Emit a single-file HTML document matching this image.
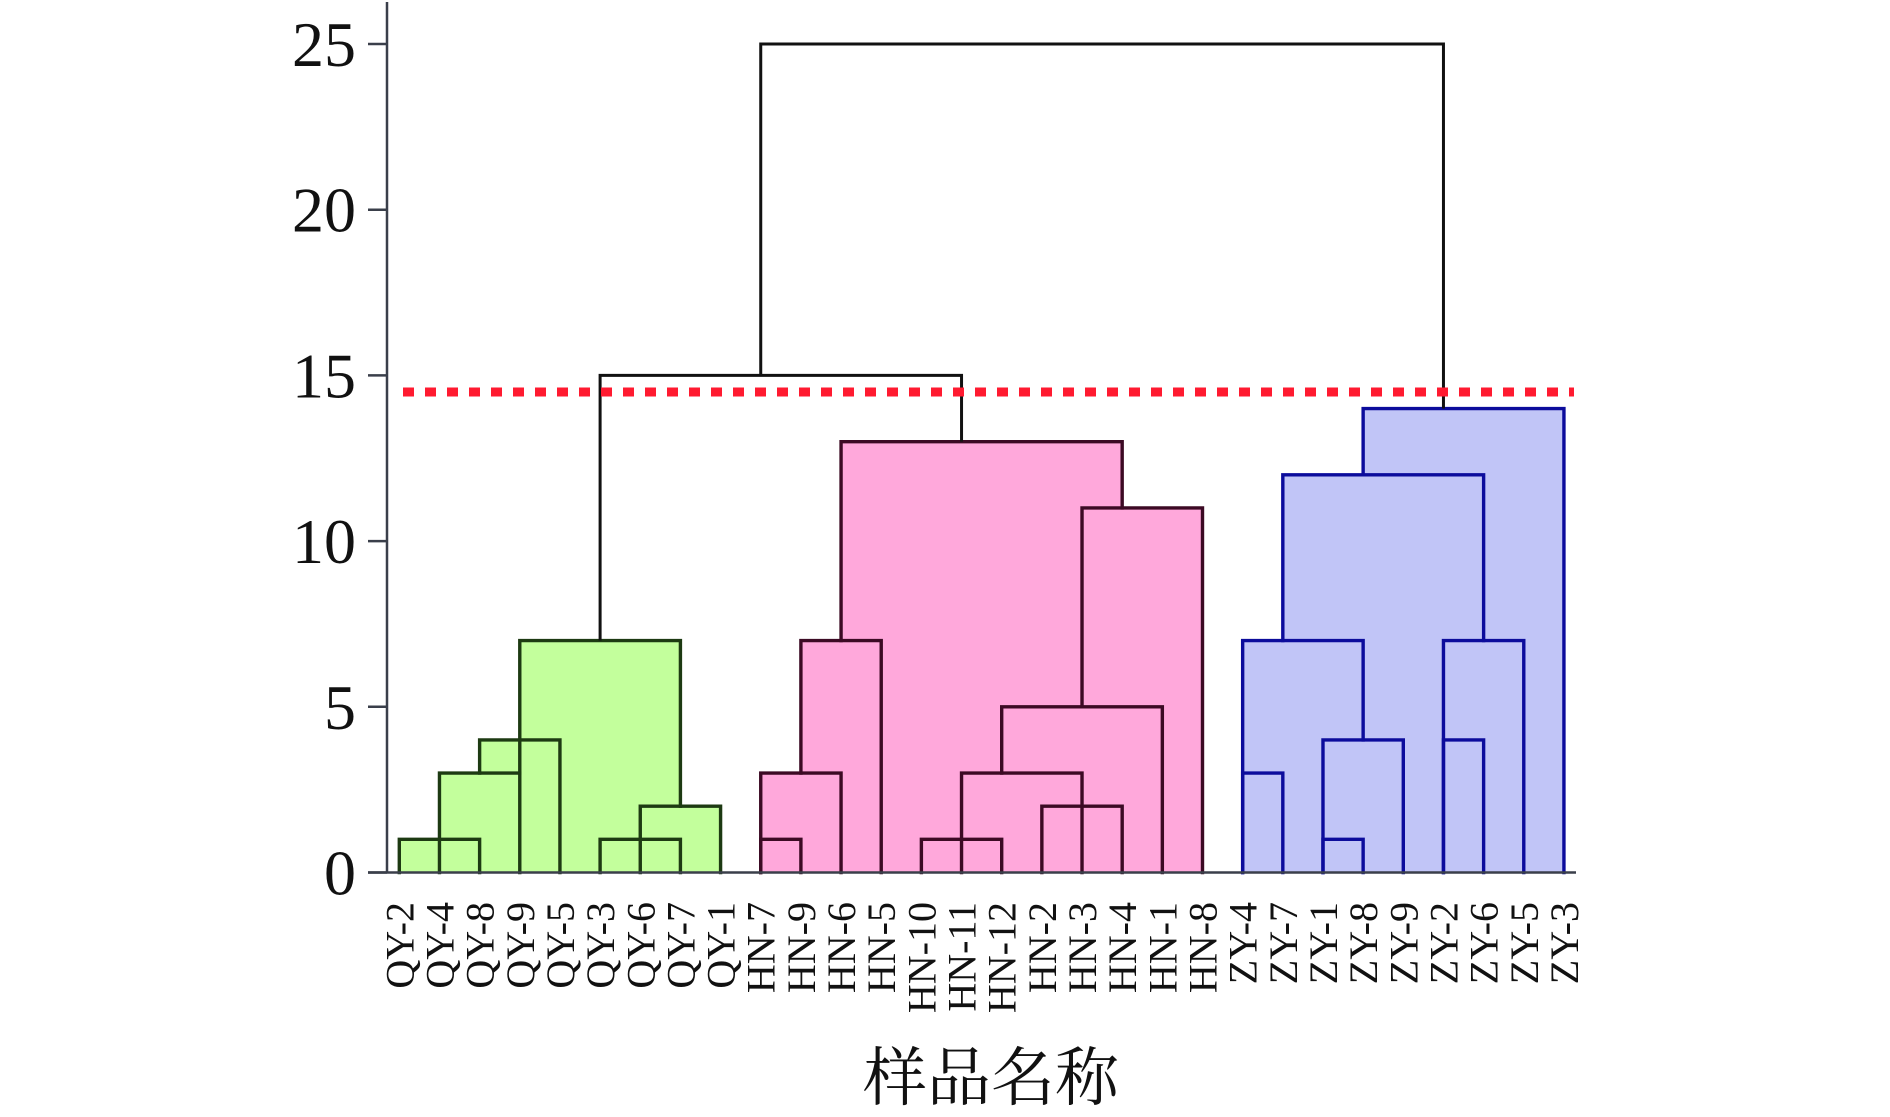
<!DOCTYPE html>
<html><head><meta charset="utf-8">
<style>
html,body{margin:0;padding:0;background:#fff;}
svg{display:block;}
</style></head>
<body>
<svg id="chart" width="1890" height="1117" viewBox="0 0 1890 1117" xmlns="http://www.w3.org/2000/svg">
  <g id="clusters"></g>
  <g id="links"></g>
  <g id="axes"></g>
  <g id="labels"></g>
  <text x="991" y="1100" text-anchor="middle" font-family="'Liberation Serif','Noto Serif CJK SC',serif" font-size="64" fill="#111">样品名称</text>
</svg>
<script>
const leaves = ["QY-2","QY-4","QY-8","QY-9","QY-5","QY-3","QY-6","QY-7","QY-1",
  "HN-7","HN-9","HN-6","HN-5","HN-10","HN-11","HN-12","HN-2","HN-3","HN-4","HN-1","HN-8",
  "ZY-4","ZY-7","ZY-1","ZY-8","ZY-9","ZY-2","ZY-6","ZY-5","ZY-3"];
const yTicks = [0,5,10,15,20,25];
const cutHeight = 14.5;
// merges: [left leaf index, right leaf index, merge height, left child height, right child height]
const qyMerges = [[3,7,7,3,2],[2,4,4,3,0],[1,3,3,0,0],[0,2,1,0,0],[6,8,2,0,0],[5,7,1,0,0]];
const hnMerges = [[11,18,13,7,11],[17,20,11,5,0],[10,12,7,3,0],[15,19,5,3,0],[9,11,3,0,0],[14,17,3,0,0],[16,18,2,0,0],[9,10,1,0,0],[13,15,1,0,0]];
const zyMerges = [[24,29,14,12,0],[22,27,12,7,7],[21,24,7,0,4],[26,28,7,0,0],[23,25,4,0,0],[26,27,4,0,0],[21,22,3,0,0],[23,24,1,0,0]];
const upperLinks = [[5,14,15,7,13],[9,26,25,15,14]];

const NS = "http://www.w3.org/2000/svg";
const X0 = 399.3, DX = 40.16, Y0 = 872.5, YU = 33.14;
const xs = i => X0 + DX*i;
const ys = v => Y0 - YU*v;
function mk(tag, attrs, parent){const e=document.createElementNS(NS,tag);for(const k in attrs)e.setAttribute(k,attrs[k]);parent.appendChild(e);return e;}

const cl = document.getElementById('clusters');
function drawGroup(merges, fill, stroke, name){
  const g = mk('g',{},cl);
  
  
  merges.forEach(r=>{
    const x1=xs(r[0]), x2=xs(r[1]), y=ys(r[2]);
    const e = mk('rect',{x:x1,y:y,width:x2-x1,height:Y0-y,fill:fill,stroke:'none'},g);
    
    
  });
  merges.forEach(r=>{
    const x1=xs(r[0]), x2=xs(r[1]), y=ys(r[2]);
    const p = mk('path',{d:`M${x1},${ys(r[3])}V${y}H${x2}V${ys(r[4])}`,fill:'none',stroke:stroke,'stroke-width':3.4,'stroke-linecap':'square'},g);
    
    
  });
}
drawGroup(qyMerges,'#c3ff9c','#1d3a12','qy-cluster');
drawGroup(hnMerges,'#ffa8db','#3c0a24','hn-cluster');
drawGroup(zyMerges,'#c1c5f7','#0c0c9c','zy-cluster');

const lk = document.getElementById('links');
upperLinks.forEach(l=>{
  const x1=xs(l[0]), x2=xs(l[1]);
  const p = mk('path',{d:`M${x1},${ys(l[3])}V${ys(l[2])}H${x2}V${ys(l[4])}`,fill:'none',stroke:'#111','stroke-width':3},lk);
  
  
});
const cut = mk('line',{x1:403,x2:1574,y1:ys(cutHeight),y2:ys(cutHeight),stroke:'#ff1a30','stroke-width':9,'stroke-dasharray':'11 11'},lk);



const ax = document.getElementById('axes');
const ya = mk('line',{x1:387,x2:387,y1:2,y2:Y0,stroke:'#3a3f4a','stroke-width':2.5},ax);


const xa = mk('line',{x1:368,x2:1576,y1:Y0,y2:Y0,stroke:'#3a3f4a','stroke-width':2.5},ax);


yTicks.forEach(t=>{
  const tk = mk('line',{x1:368,x2:387,y1:ys(t),y2:ys(t),stroke:'#3a3f4a','stroke-width':2.5},ax);
  
  
  const tx = mk('text',{x:356,y:ys(t)+22,'text-anchor':'end','font-family':"'Liberation Serif',serif",'font-size':64,fill:'#111'},ax);
  tx.textContent = t;
  
  
});

const lb = document.getElementById('labels');
leaves.forEach((n,i)=>{
  const x = xs(i)+14, y = 902;
  const t = mk('text',{x:x,y:y,transform:`rotate(-90 ${x} ${y})`,'text-anchor':'end','font-family':"'Liberation Serif',serif",'font-size':40,fill:'#111'},lb);
  t.textContent = n;
  
  
});
</script>
</body></html>
